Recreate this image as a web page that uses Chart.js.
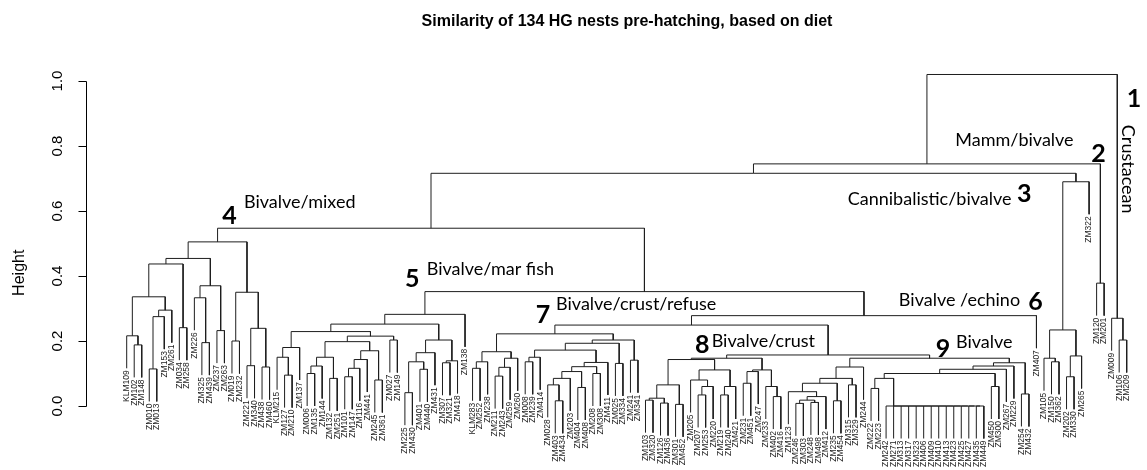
<!DOCTYPE html>
<html>
<head>
<meta charset="utf-8">
<script src="https://cdn.jsdelivr.net/npm/chart.js@4.4.1/dist/chart.umd.min.js"></script>
<style>
  html, body { margin: 0; padding: 0; background: #fff; }
  #wrap { width: 1147px; height: 470px; }
</style>
</head>
<body>
<div id="wrap"><canvas id="dendro"></canvas></div>
<script>
// nests, in the left-to-right order of the dendrogram
const leaves = [
  'KLM109','ZM102','ZM148','ZM010','ZM013','ZM153','ZM261','ZM034','ZM258','ZM226',
  'ZM325','ZM439','ZM237','ZM263','ZM019','ZM232','ZM221','ZM340','ZM438','ZM460',
  'KLM215','ZM127','ZM210','ZM137','ZM006','ZM135','ZM144','ZM132','ZM251','ZM101',
  'ZM147','ZM116','ZM441','ZM245','ZM361','ZM027','ZM149','ZM225','ZM430','ZM401',
  'ZM440','ZM431','ZM307','ZM321','ZM418','ZM138',
  'KLM283','ZM252','ZM238','ZM211','ZM243','ZM259','ZM260','ZM008','ZM239','ZM414',
  'ZM028','ZM403','ZM434','ZM203','ZM404','ZM408','ZM208','ZM308','ZM411','ZM025',
  'ZM334','ZM241','ZM341',
  'ZM103','ZM320','ZM126','ZM436','ZM301','ZM452','ZM205','ZM207','ZM253','ZM220',
  'ZM219','ZM240','ZM421','ZM231','ZM451','ZM247','ZM233','ZM402','ZM416',
  'ZM123','ZM246','ZM303','ZM248','ZM498','ZM412','ZM235','ZM454','ZM315','ZM329',
  'ZM244','ZM222','ZM223','ZM242','ZM271','ZM313','ZM317','ZM323','ZM406','ZM409',
  'ZM410','ZM413','ZM423','ZM425','ZM427','ZM435','ZM449','ZM450','ZM300','ZM267',
  'ZM229','ZM254','ZM432',
  'ZM407',
  'ZM105','ZM150','ZM362','ZM202','ZM330','ZM265','ZM322',
  'ZM120','ZM201',
  'ZM009','ZM106','ZM209'
];

// nests with identical diets, joined at height 0
const zeroLeaves = ['ZM242','ZM271','ZM313','ZM317','ZM323','ZM406','ZM409','ZM410',
  'ZM413','ZM423','ZM425','ZM427','ZM435','ZM449'];

// merges written as [height, left, right]
const group1 = [0.27, 'ZM009', [0.203, 'ZM106', 'ZM209']];
const group2 = [0.378, 'ZM120', 'ZM201'];
const group3 = [0.69, [0.234, [0.147, 'ZM105', [0.136, 'ZM150', 'ZM362']],
  [0.154, [0.09, 'ZM202', 'ZM330'], 'ZM265']], 'ZM322'];

const group4 = [0.505,
  [0.454,
    [0.437,
      [0.336, [0.216, 'KLM109', [0.188, 'ZM102', 'ZM148']],
        [0.295, [0.275, [0.114, 'ZM010', 'ZM013'], 'ZM153'], 'ZM261']],
      [0.241, 'ZM034', 'ZM258']],
    [0.37, [0.333, 'ZM226', [0.195, 'ZM325', 'ZM439']], [0.232, 'ZM237', 'ZM263']]],
  [0.35, [0.2, 'ZM019', 'ZM232'], [0.239, [0.124, 'ZM221', 'ZM340'], [0.12, 'ZM438', 'ZM460']]]];

const g5a = [0.18, [0.15, 'KLM215', [0.095, 'ZM127', 'ZM210']], 'ZM137'];
const g5b = [0.15, [0.123, [0.1, 'ZM006', 'ZM135'], 'ZM144'], [0.085, 'ZM132', 'ZM251']];
const g5c = [0.143, [0.116, [0.09, 'ZM101', 'ZM147'], 'ZM116'], 'ZM441'];
const g5d = [0.08, 'ZM245', 'ZM361'];
const g5e = [0.203, 'ZM027', 'ZM149'];
const g5f = [0.203, [0.164, [0.136, [0.041, 'ZM225', 'ZM430'], [0.113, 'ZM401', 'ZM440']], 'ZM431'],
  [0.139, [0.133, 'ZM307', 'ZM321'], 'ZM418']];
const group5 = [0.282, [0.252, [0.229, g5a, [0.215, [0.198, g5b, [0.17, g5c, g5d]], g5e]], g5f], 'ZM138'];

const g7a = [0.167, [0.136, [0.116, 'KLM283', 'ZM252'], 'ZM238'],
  [0.147, [0.119, [0.092, 'ZM211', 'ZM243'], 'ZM259'], 'ZM260']];
const g7b = [0.134, [0.121, [0.106, [0.085, [0.065, 'ZM028', [0.016, 'ZM403', 'ZM434']], 'ZM203'],
  [0.057, 'ZM404', 'ZM408']], [0.1, 'ZM208', 'ZM308']], 'ZM411'];
const group7 = [0.222, g7a, [0.203, [0.193, [0.172, [0.15, [0.136, 'ZM008', 'ZM239'], 'ZM414'], g7b],
  [0.131, 'ZM025', 'ZM334']], [0.141, 'ZM241', 'ZM341']]];

const g8a = [0.065, [0.024, [0.018, 'ZM103', 'ZM320'], [0.009, 'ZM126', 'ZM436']], [0.005, 'ZM301', 'ZM452']];
const g8b = [0.111, [0.08, 'ZM205', [0.06, [0.034, 'ZM207', 'ZM253'], 'ZM220']],
  [0.06, [0.034, 'ZM219', 'ZM240'], 'ZM421']];
const g8c = [0.111, [0.106, [0.07, 'ZM231', 'ZM451'], 'ZM247'], [0.06, 'ZM233', [0.029, 'ZM402', 'ZM416']]];
const group8 = [0.147, [0.143, g8a, g8b], g8c];

const g9a = [0.12, [0.085, [0.07, [0.044, 'ZM123', [0.029, [0.018, [0.008, 'ZM246', 'ZM303'],
  [0.011, 'ZM248', 'ZM498']], 'ZM412']], [0.016, 'ZM235', 'ZM454']], [0.065, 'ZM315', 'ZM329']], 'ZM244'];
const zeroChain = zeroLeaves.slice(0, -1).reduceRight((acc, lab) => [0, lab, acc], zeroLeaves[zeroLeaves.length - 1]);
const g9b = [0.133, [0.123, [0.113, [0.1, [0.085, [0.054, 'ZM222', 'ZM223'], zeroChain],
  [0.06, 'ZM450', 'ZM300']], 'ZM267'], 'ZM229'], [0.037, 'ZM254', 'ZM432']];
const group9 = [0.147, g9a, g9b];

const tree = [1.02,
  [0.745,
    [0.716,
      [0.547, group4, [0.352, group5, [0.278, [0.249, group7, [0.157, group8, group9]], 'ZM407']]],
      group3],
    group2],
  group1];

const yTicks = [0, 0.2, 0.4, 0.6, 0.8, 1.0];

const noteNums = ['1', '2', '3', '4', '5', '6', '7', '8', '9'];
const noteNames = ['Crustacean', 'Mamm/bivalve', 'Cannibalistic/bivalve', 'Bivalve/mixed',
  'Bivalve/mar fish', 'Bivalve /echino', 'Bivalve/crust/refuse', 'Bivalve/crust', 'Bivalve'];

// where the notes sit, in [leaf position, height]
const numAt = [[133.0, 0.92], [128.3, 0.751], [118.4, 0.628], [12.7, 0.56], [37.0, 0.366],
  [119.9, 0.295], [54.4, 0.255], [75.6, 0.163], [107.6, 0.151]];
const nameAt = [[132.4, 0.865], [110.2, 0.8], [95.9, 0.618], [15.6, 0.609], [39.9, 0.403],
  [102.7, 0.308], [57.1, 0.295], [77.8, 0.182], [110.3, 0.178]];

const hang = 0.1; // leaves drop this far below their merge, like plot.hclust
const axisAt = -5.35; // y axis sits left of the first leaf

// turn the merges into line segments
const pos = new Map(leaves.map((l, i) => [l, i]));
const segs = [];
const leafEnd = [];

function walk(node) {
  if (typeof node === 'string') return { x: pos.get(node), top: null };
  const [h, a, b] = node;
  const L = walk(a), R = walk(b);
  const yl = L.top === null ? h - hang : L.top;
  const yr = R.top === null ? h - hang : R.top;
  if (L.top === null) leafEnd[L.x] = yl;
  if (R.top === null) leafEnd[R.x] = yr;
  segs.push({ x: L.x, y: yl }, { x: L.x, y: h }, { x: R.x, y: h }, { x: R.x, y: yr }, { x: NaN, y: NaN });
  return { x: (L.x + R.x) / 2, top: h };
}
walk(tree);

const decor = {
  id: 'decor',
  afterDraw(chart) {
    const { ctx, scales: { x, y } } = chart;
    ctx.save();
    ctx.fillStyle = '#000';
    ctx.strokeStyle = '#000';
    ctx.lineWidth = 1;

    // R style axis, only over the tick range
    const ax = Math.round(x.getPixelForValue(axisAt)) + 0.5;
    ctx.beginPath();
    ctx.moveTo(ax, Math.round(y.getPixelForValue(yTicks[0])) + 0.5);
    ctx.lineTo(ax, Math.round(y.getPixelForValue(yTicks[yTicks.length - 1])) + 0.5);
    yTicks.forEach(v => {
      const py = Math.round(y.getPixelForValue(v)) + 0.5;
      ctx.moveTo(ax, py);
      ctx.lineTo(ax - 8, py);
    });
    ctx.stroke();

    ctx.font = '15px "Liberation Sans", Arial';
    ctx.textAlign = 'center';
    ctx.textBaseline = 'middle';
    yTicks.forEach(v => {
      ctx.save();
      ctx.translate(ax - 29, y.getPixelForValue(v));
      ctx.rotate(-Math.PI / 2);
      ctx.fillText(v.toFixed(1), 0, 0);
      ctx.restore();
    });
    ctx.save();
    ctx.font = '16px "Liberation Sans", Arial';
    ctx.translate(ax - 67, y.getPixelForValue(0.41));
    ctx.rotate(-Math.PI / 2);
    ctx.fillText('Height', 0, 0);
    ctx.restore();

    // leaf labels hang under each leaf
    ctx.font = '8.5px "Liberation Sans", Arial';
    ctx.fillStyle = '#222';
    ctx.textAlign = 'right';
    leaves.forEach((lab, i) => {
      ctx.save();
      ctx.translate(x.getPixelForValue(i), y.getPixelForValue(leafEnd[i]) + 2);
      ctx.rotate(-Math.PI / 2);
      ctx.fillText(lab, 0, 0);
      ctx.restore();
    });

    // cluster notes
    ctx.fillStyle = '#000';
    ctx.textAlign = 'left';
    ctx.textBaseline = 'alphabetic';
    noteNums.forEach((n, i) => {
      ctx.font = 'bold 25px Lato';
      ctx.fillText(n, x.getPixelForValue(numAt[i][0]), y.getPixelForValue(numAt[i][1]));
      ctx.font = '18px Lato';
      const px = x.getPixelForValue(nameAt[i][0]), py = y.getPixelForValue(nameAt[i][1]);
      if (i === 0) {
        ctx.save();
        ctx.translate(px, py);
        ctx.rotate(Math.PI / 2);
        ctx.fillText(noteNames[i], 0, 0);
        ctx.restore();
      } else {
        ctx.fillText(noteNames[i], px, py);
      }
    });
    ctx.restore();
  }
};

new Chart(document.getElementById('dendro'), {
  type: 'scatter',
  data: {
    datasets: [{
      data: segs,
      showLine: true,
      spanGaps: false,
      borderColor: '#1e1e1e',
      borderWidth: 1,
      pointRadius: 0,
      pointHoverRadius: 0,
      tension: 0
    }]
  },
  options: {
    responsive: true,
    maintainAspectRatio: false,
    animation: false,
    events: [],
    layout: { padding: { left: 114, right: 7, top: 0, bottom: 0 } },
    scales: {
      x: { type: 'linear', display: false, min: -1.689, max: 134.77 },
      y: { type: 'linear', display: false, min: -0.19692, max: 1.04923 }
    },
    plugins: {
      legend: { display: false },
      tooltip: { enabled: false },
      title: {
        display: true,
        text: 'Similarity of 134 HG nests pre-hatching, based on diet',
        color: '#000',
        font: { family: '"Liberation Sans", Arial', size: 16, weight: 'bold' },
        padding: { top: 12, bottom: 33.8 }
      }
    }
  },
  plugins: [decor]
});
</script>
</body>
</html>
